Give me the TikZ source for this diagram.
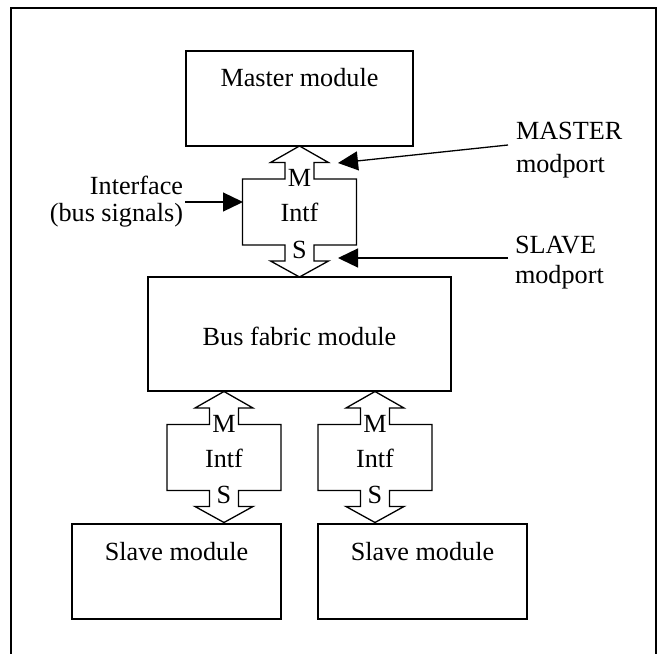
\documentclass[tikz,border=0pt]{standalone}
\usepackage{fontspec}
\setmainfont{Liberation Serif}
\usetikzlibrary{arrows.meta}

\tikzset{
  every node/.style={inner sep=0pt, outer sep=0pt},
  txt/.style={font=\fontsize{26.2}{31}\selectfont},
  outline/.style={draw, line width=1.3pt},
  modbox/.style={outline, minimum width=#1},
  pointer/.style={line width=1.3pt, -{Triangle[length=20pt,width=19pt]}},
  % double-headed interface shape with M and S modport labels
  busintf/.pic={
    \draw[outline] (0,0) -- (29,16.5) -- (14.5,16.5) -- (14.5,33) -- (57,33)
      -- (57,99) -- (14.5,99) -- (14.5,115) -- (29,115) -- (0,131)
      -- (-29,115) -- (-14.5,115) -- (-14.5,99) -- (-57,99) -- (-57,33)
      -- (-14.5,33) -- (-14.5,16.5) -- (-29,16.5) -- cycle;
    \node[txt, anchor=base] (-m) at (0,40.5) {M};
    \node[txt, anchor=base] (-n) at (0,75.5) {Intf};
    \node[txt, anchor=base] (-s) at (0,112) {S};
    \coordinate (-mport) at (38.5,17);
    \coordinate (-sport) at (38.5,112);
    \coordinate (-side) at (-56.5,56);
  }
}

\begin{document}
\begin{tikzpicture}[x=1pt,y=-1pt]
  \useasboundingbox (0,0) rectangle (657,654);

  % page frame (open at the bottom)
  \draw[line width=1.5pt] (11,654) -- (11,8) -- (656,8) -- (656,654);

  % modules
  \node[modbox=227pt, minimum height=95pt] (master) at (299.5,98.5) {};
  \node[txt, anchor=base] (mastert) at (299.5,86) {Master module};

  \node[modbox=303pt, minimum height=114pt] (bus) at (299.5,334) {};
  \node[txt, anchor=base] (bust) at (299.5,345) {Bus fabric module};

  \node[modbox=209pt, minimum height=95pt] (slaveA) at (176.5,571.5) {};
  \node[txt, anchor=base] (slaveAt) at (176.5,560) {Slave module};

  \node[modbox=209pt, minimum height=95pt] (slaveB) at (422.5,571.5) {};
  \node[txt, anchor=base] (slaveBt) at (422.5,560) {Slave module};

  % interfaces
  \pic (top) at (master.south) {busintf};
  \pic (lowA) at (224,391.5) {busintf};
  \pic (lowB) at (375,391.5) {busintf};

  % annotations
  \node[txt, anchor=base west] (mlab1) at (516,139) {MASTER};
  \node[txt, anchor=base west] (mlab2) at (516,172) {modport};
  \node[txt, anchor=base west] (slab1) at (515,253) {SLAVE};
  \node[txt, anchor=base west] (slab2) at (515,283) {modport};
  \node[txt, anchor=base east] (ilab1) at (183,194) {Interface};
  \node[txt, anchor=base east] (ilab2) at (183,221) {(bus signals)};

  \coordinate (mfrom) at (508,145);
  \coordinate (sfrom) at (508,258);
  \coordinate (ifrom) at (185,202);

  \draw[pointer] (mfrom) -- (top-mport);
  \draw[pointer] (sfrom) -- (top-sport);
  \draw[pointer] (ifrom) -- (top-side);
\end{tikzpicture}
\end{document}
